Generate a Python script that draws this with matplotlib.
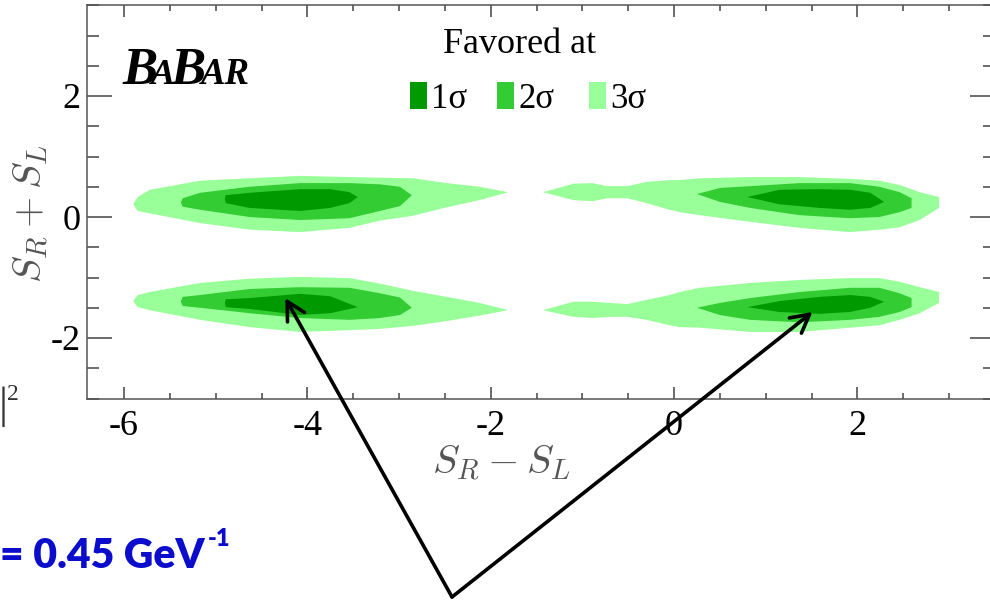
import matplotlib.pyplot as plt
from matplotlib.patches import Rectangle
from matplotlib.ticker import MultipleLocator

plt.rcParams['font.family'] = ['Liberation Serif', 'DejaVu Serif']
plt.rcParams['mathtext.fontset'] = 'cm'
plt.rcParams['axes.unicode_minus'] = False

# favoured regions: x = S_R - S_L, upper / lower edge in S_R + S_L
# upper left island
ul3_x = [-5.90, -5.85, -5.72, -5.17, -4.63, -4.08, -3.54, -3.21, -2.85, -2.48, -2.12, -1.81]
ul3_top = [0.21, 0.33, 0.45, 0.60, 0.64, 0.68, 0.66, 0.65, 0.64, 0.56, 0.50, 0.41]
ul3_bot = [0.21, 0.10, 0.06, -0.10, -0.21, -0.25, -0.18, -0.06, 0.02, 0.16, 0.28, 0.41]
ul2_x = [-5.38, -5.36, -5.17, -4.63, -4.08, -3.54, -3.21, -2.99, -2.86]
ul2_top = [0.24, 0.31, 0.40, 0.50, 0.56, 0.56, 0.54, 0.50, 0.36]
ul2_bot = [0.24, 0.17, 0.12, 0.00, -0.05, -0.02, 0.10, 0.18, 0.36]
ul1_x = [-4.90, -4.89, -4.63, -4.08, -3.75, -3.54, -3.45]
ul1_top = [0.30, 0.36, 0.40, 0.46, 0.46, 0.41, 0.33]
ul1_bot = [0.30, 0.23, 0.15, 0.10, 0.15, 0.23, 0.33]

# upper right island
ur3_x = [-1.43, -1.10, -0.89, -0.73, -0.51, -0.30, -0.05, 0.06, 0.28, 0.83, 1.37, 1.92, 2.24, 2.46, 2.68, 2.89]
ur3_top = [0.41, 0.55, 0.56, 0.51, 0.51, 0.58, 0.61, 0.61, 0.64, 0.66, 0.66, 0.63, 0.60, 0.53, 0.41, 0.33]
ur3_bot = [0.41, 0.28, 0.26, 0.31, 0.31, 0.23, 0.12, 0.08, 0.03, -0.08, -0.18, -0.25, -0.21, -0.17, -0.05, 0.15]
ur2_x = [0.25, 0.50, 0.83, 1.37, 1.92, 2.24, 2.46, 2.59]
ur2_top = [0.38, 0.48, 0.51, 0.56, 0.56, 0.50, 0.41, 0.31]
ur2_bot = [0.38, 0.25, 0.15, 0.03, -0.02, 0.00, 0.08, 0.15]
ur1_x = [0.80, 1.15, 1.59, 1.92, 2.14, 2.29]
ur1_top = [0.33, 0.45, 0.46, 0.45, 0.40, 0.25]
ur1_bot = [0.33, 0.21, 0.15, 0.12, 0.15, 0.25]

# lower left island
ll3_x = [-5.90, -5.85, -5.72, -5.17, -4.63, -4.08, -3.54, -3.21, -2.85, -2.48, -2.12, -1.81]
ll3_top = [-1.39, -1.29, -1.24, -1.09, -1.02, -0.99, -1.01, -1.10, -1.22, -1.32, -1.42, -1.54]
ll3_bot = [-1.39, -1.49, -1.54, -1.70, -1.82, -1.90, -1.87, -1.85, -1.80, -1.72, -1.63, -1.54]
ll2_x = [-5.38, -5.36, -5.17, -4.63, -4.08, -3.54, -3.21, -2.99, -2.86]
ll2_top = [-1.40, -1.32, -1.29, -1.19, -1.16, -1.17, -1.26, -1.33, -1.50]
ll2_bot = [-1.40, -1.47, -1.50, -1.59, -1.67, -1.70, -1.67, -1.62, -1.50]
ll1_x = [-4.90, -4.89, -4.63, -4.08, -3.75, -3.45]
ll1_top = [-1.42, -1.36, -1.34, -1.27, -1.31, -1.49]
ll1_bot = [-1.42, -1.49, -1.52, -1.62, -1.59, -1.49]

# lower right island
lr3_x = [-1.43, -1.10, -0.89, -0.70, -0.51, -0.30, -0.05, 0.06, 0.28, 0.83, 1.37, 1.92, 2.24, 2.46, 2.68, 2.89]
lr3_top = [-1.54, -1.40, -1.40, -1.42, -1.44, -1.37, -1.29, -1.24, -1.17, -1.09, -1.04, -1.01, -1.01, -1.07, -1.16, -1.24]
lr3_bot = [-1.54, -1.65, -1.67, -1.65, -1.65, -1.70, -1.79, -1.82, -1.83, -1.90, -1.90, -1.83, -1.79, -1.70, -1.59, -1.42]
lr2_x = [0.25, 0.50, 0.83, 1.37, 1.92, 2.24, 2.46, 2.59]
lr2_top = [-1.50, -1.42, -1.34, -1.24, -1.17, -1.17, -1.26, -1.34]
lr2_bot = [-1.50, -1.62, -1.70, -1.74, -1.70, -1.65, -1.57, -1.49]
lr1_x = [0.80, 1.15, 1.59, 1.92, 2.14, 2.29]
lr1_top = [-1.49, -1.39, -1.32, -1.29, -1.32, -1.40]
lr1_bot = [-1.49, -1.57, -1.60, -1.57, -1.50, -1.40]

sigma_labels = ['1σ', '2σ', '3σ']
sigma_colors = ['#009900', '#33cc33', '#99ff99']

# arrow targets (data coords)
arrow_x = [-4.24, 1.51]
arrow_y = [-1.34, -1.57]

W, H = 990, 600


def fx(px):
    return px / W


def fy(py):
    return 1 - py / H


def band(ax, x, top, bot, color):
    xs = list(x) + list(x[::-1])
    ys = list(top) + list(bot[::-1])
    ax.fill(xs, ys, color=color, lw=0)


fig = plt.figure(figsize=(9.9, 6), dpi=100)
ax = fig.add_axes([fx(87.3), fy(398.5), fx(995) - fx(87.3), (398.5 - 5.25) / H])

# 3 sigma first, 1 sigma on top
band(ax, ul3_x, ul3_top, ul3_bot, sigma_colors[2])
band(ax, ur3_x, ur3_top, ur3_bot, sigma_colors[2])
band(ax, ll3_x, ll3_top, ll3_bot, sigma_colors[2])
band(ax, lr3_x, lr3_top, lr3_bot, sigma_colors[2])
band(ax, ul2_x, ul2_top, ul2_bot, sigma_colors[1])
band(ax, ur2_x, ur2_top, ur2_bot, sigma_colors[1])
band(ax, ll2_x, ll2_top, ll2_bot, sigma_colors[1])
band(ax, lr2_x, lr2_top, lr2_bot, sigma_colors[1])
band(ax, ul1_x, ul1_top, ul1_bot, sigma_colors[0])
band(ax, ur1_x, ur1_top, ur1_bot, sigma_colors[0])
band(ax, ll1_x, ll1_top, ll1_bot, sigma_colors[0])
band(ax, lr1_x, lr1_top, lr1_bot, sigma_colors[0])

ax.set_xlim(-6.4, 3.5)
ax.set_ylim(-3, 3.5)
ax.xaxis.set_major_locator(MultipleLocator(2))
ax.xaxis.set_minor_locator(MultipleLocator(0.5))
ax.yaxis.set_major_locator(MultipleLocator(2))
ax.yaxis.set_minor_locator(MultipleLocator(0.5))
ax.tick_params(which='both', direction='in', top=True, right=True,
               color='#444444', width=1.1, labelsize=26, labelcolor='black')
ax.tick_params(axis='x', which='major', length=8.6, pad=8)
ax.tick_params(axis='x', which='minor', length=4.3)
ax.tick_params(axis='y', which='major', length=18, pad=5)
ax.tick_params(axis='y', which='minor', length=8.6)
for s in ax.spines.values():
    s.set_color('#555555')
    s.set_linewidth(1.1)

ax.set_xlabel(r'$S_R - S_L$', fontsize=29, color='#555555', va='center')
ax.xaxis.set_label_coords(0.456, -0.165)
ax.set_ylabel(r'$S_R + S_L$', fontsize=29, color='#555555', va='center')
ax.yaxis.set_label_coords(-0.062, 0.47)

# BaBar logo
logo_kw = dict(weight='bold', style='italic', color='black', va='baseline')
fig.text(fx(122), fy(84), 'B', fontsize=38, **logo_kw)
fig.text(fx(151), fy(84), 'A', fontsize=26, **logo_kw)
fig.text(fx(170), fy(84), 'B', fontsize=38, **logo_kw)
fig.text(fx(201), fy(84), 'AR', fontsize=26.5, **logo_kw)

# legend
fig.text(fx(520), fy(53), 'Favored at', fontsize=26, ha='center', va='baseline')
leg_x = [410, 497, 589]
for x0, lab, c in zip(leg_x, sigma_labels, sigma_colors):
    fig.add_artist(Rectangle((fx(x0), fy(109)), fx(17), 27 / H,
                             transform=fig.transFigure, color=c, lw=0))
    fig.text(fx(x0 + 21), fy(108), lab, fontsize=25, va='baseline')

# arrows pointing at the 1 sigma islands
for xa, ya in zip(arrow_x, arrow_y):
    ax.annotate('', xy=(xa, ya), xycoords='data',
                xytext=(fx(452), fy(597)), textcoords='figure fraction',
                annotation_clip=False,
                arrowprops=dict(arrowstyle='->,head_length=1.3,head_width=0.7',
                                mutation_scale=10, lw=2.6, color='black',
                                shrinkA=0, shrinkB=0))

# cut-off bits of the slide
fig.text(fx(-1), fy(418), '|', fontsize=32, color='#333333', va='baseline')
fig.text(fx(7), fy(400), '2', fontsize=17, color='#333333', va='baseline')
fig.text(fx(0), fy(568), '= 0.45 GeV', fontsize=29.5, weight='heavy',
         family='Lato', color='#0c0ccc', va='baseline')
fig.text(fx(208), fy(546), '-1', fontsize=17, weight='heavy',
         family='Lato', color='#0c0ccc', va='baseline')

fig.savefig('out.png', dpi=100)
